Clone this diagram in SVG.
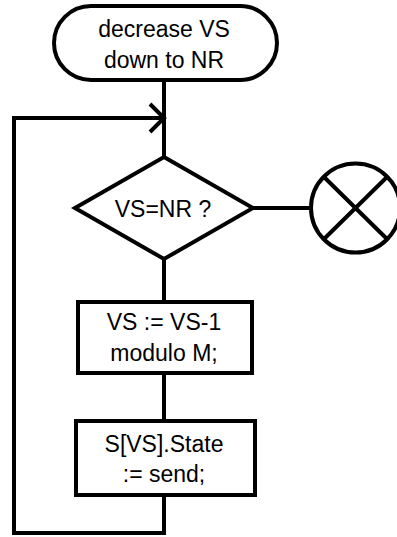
<svg xmlns="http://www.w3.org/2000/svg" width="397" height="537" viewBox="0 0 397 537">
<style>
.s{fill:#fff;stroke:#000;stroke-width:4}
.l{fill:none;stroke:#000;stroke-width:4}
text{font-family:"Liberation Sans",Arial,sans-serif;font-size:23px;fill:#000;text-anchor:middle}
</style>
<rect width="397" height="537" fill="#fff"/>
<g id="connectors">
<path class="l" d="M164 80V157"/>
<path class="l" d="M164 259V302"/>
<path class="l" d="M164 373V421"/>
<path class="l" d="M164 495V533H14V118H164"/>
<path class="l" d="M150 104L164 118L150 132"/>
<path class="l" d="M253 208H311"/>
</g>
<g id="start">
<rect class="s" x="54" y="6" width="223" height="74" rx="37"/>
<text x="164" y="37">decrease VS</text>
<text x="164" y="68">down to NR</text>
</g>
<g id="decision">
<polygon class="s" points="164,157 253,208 164,259 75,208"/>
<text x="163" y="217">VS=NR ?</text>
</g>
<g id="end">
<circle class="s" cx="355.5" cy="208" r="44.5"/>
<path class="l" d="M324 177L387 239M387 177L324 239"/>
</g>
<g id="dec">
<rect class="s" x="78" y="302" width="174" height="71"/>
<text x="164" y="330">VS := VS-1</text>
<text x="164" y="361">modulo M;</text>
</g>
<g id="state">
<rect class="s" x="76" y="421" width="179" height="74"/>
<text x="164" y="452">S[VS].State</text>
<text x="164" y="482">:= send;</text>
</g>
</svg>
